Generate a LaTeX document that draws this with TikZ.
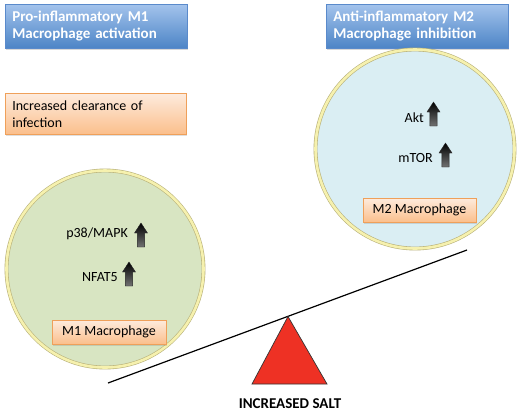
\documentclass[tikz,border=0pt]{standalone}
\usepackage{fontspec}
\setmainfont{Carlito}
\usetikzlibrary{shadows}
\definecolor{bluetop}{HTML}{A3C3EC}
\definecolor{bluebot}{HTML}{4C84C6}
\definecolor{blueedge}{HTML}{5A8ACB}
\definecolor{orgtop}{HTML}{FDEBDD}
\definecolor{orgbot}{HTML}{FBBF8C}
\definecolor{orgedge}{HTML}{EFA05A}
\definecolor{cellgreen}{HTML}{D8E5C2}
\definecolor{cellblue}{HTML}{DAEEF3}
\definecolor{ringout}{HTML}{B9B27A}
\definecolor{ringin}{HTML}{F6F1AE}
\definecolor{saltred}{HTML}{EE3124}
\tikzset{
  titlebox/.style={rectangle, draw=blueedge, line width=0.6bp, top color=bluetop, bottom color=bluebot,
    minimum width=182bp, minimum height=41bp, text width=168bp, inner sep=7bp, align=left,
    text=white, font=\bfseries\fontsize{15bp}{17bp}\selectfont,
    drop shadow={opacity=0.3, shadow xshift=1bp, shadow yshift=-1.5bp}, anchor=north west},
  notebox/.style={rectangle, draw=orgedge, line width=0.6bp, top color=orgtop, bottom color=orgbot,
    minimum width=181bp, minimum height=40bp, text width=167bp, inner sep=7bp, align=left,
    font=\fontsize{14bp}{17bp}\selectfont,
    drop shadow={opacity=0.25, shadow xshift=1bp, shadow yshift=-1.5bp}, anchor=north west},
  cellname/.style={rectangle, draw=orgedge, line width=0.6bp, top color=orgtop, bottom color=orgbot,
    minimum height=24bp, inner sep=0pt, font=\fontsize{14bp}{16bp}\selectfont,
    drop shadow={opacity=0.25, shadow xshift=1bp, shadow yshift=-1.5bp}},
  cell/.style={circle, draw=ringout, double=ringin, double distance=2.6bp, line width=0.6bp, inner sep=0pt},
  molecule/.style={font=\fontsize{14bp}{16bp}\selectfont, inner sep=0pt, anchor=east},
  uparr/.pic={
    \shade[draw=black!85, line width=0.4bp, top color=black, bottom color=black!55]
      (0,0) -- (6.5,10) -- (3.6,10) -- (3.6,24) -- (-3.6,24) -- (-3.6,10) -- (-6.5,10) -- cycle;
  }
}
\begin{document}
\begin{tikzpicture}[x=1bp, y=-1bp]
\useasboundingbox[fill=white] (0,0) rectangle (520,413);

% title boxes
\node[titlebox] (t1) at (5,4) {Pro-inflammatory M1\\Macrophage activation};
\node[titlebox] (t2) at (326,4) {Anti-inflammatory M2\\Macrophage inhibition};
\node[notebox] (n1) at (5,93) {Increased clearance of\\infection};

% cells
\node[cell, fill=cellgreen, minimum size=197bp] (c1) at (105,269) {};
\node[cell, fill=cellblue, minimum size=199bp] (c2) at (415,149) {};

% molecules
\node[molecule] (p38) at (128,234) {p38/MAPK};
\pic at (141,223) {uparr};
\node[molecule] (nfat) at (118,277) {NFAT5};
\pic at (129,262) {uparr};
\node[molecule] (akt) at (424,118) {Akt};
\pic at (433.5,102) {uparr};
\node[molecule] (mtor) at (433,158) {mTOR};
\pic at (445.5,143) {uparr};

% cell labels
\node[cellname, minimum width=114bp] (m1) at (109,332) {M1 Macrophage};
\node[cellname, minimum width=113bp] (m2) at (419.5,210) {M2 Macrophage};

% seesaw
\coordinate (lvL) at (108,383);
\coordinate (lvR) at (467,250);
\draw[line width=1.2bp, black] (lvL) -- (lvR);
\coordinate (apex) at (288,316.5);
\coordinate (bl) at (252,384);
\coordinate (br) at (327,384);
\draw[fill=saltred, draw=black!80, line width=0.7bp] (apex) -- (br) -- (bl) -- cycle;
\node[font=\bfseries\fontsize{15bp}{16bp}\selectfont, inner sep=0pt] (salt) at (290,404) {INCREASED SALT};
\end{tikzpicture}
\end{document}
